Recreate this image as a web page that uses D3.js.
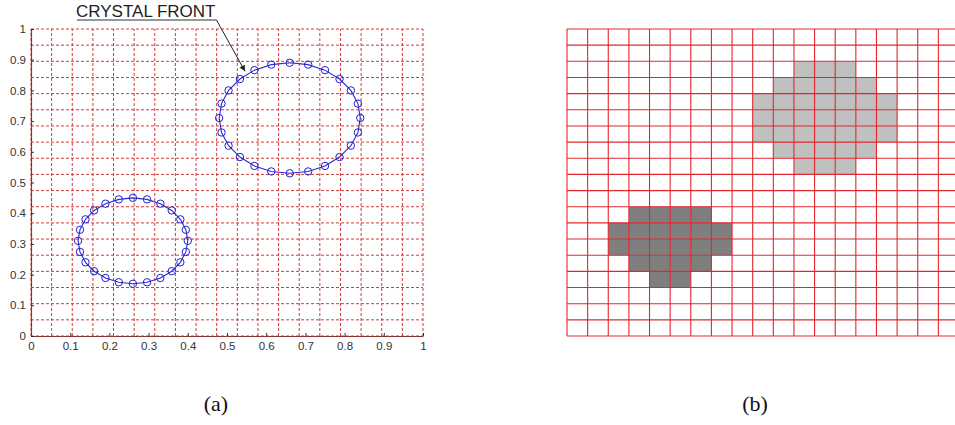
<!DOCTYPE html>
<html>
<head>
<meta charset="utf-8">
<script src="https://cdn.jsdelivr.net/npm/d3@7"></script>
<style>
  html, body { margin: 0; padding: 0; background: #fff; }
  svg { display: block; }
</style>
</head>
<body>
<svg id="fig" width="955" height="425"></svg>
<script>
// ---- data ----
// Mesh resolution shared by both panels (cells per side)
const meshCells = 19;

// Axis tick values of the front-tracking panel
const tickValues = [0, 0.1, 0.2, 0.3, 0.4, 0.5, 0.6, 0.7, 0.8, 0.9, 1];
const tickLabels = ["0", "0.1", "0.2", "0.3", "0.4", "0.5", "0.6", "0.7", "0.8", "0.9", "1"];

// Marker points along the lower-left crystal front
const front1X = [0.400, 0.395, 0.381, 0.359, 0.330, 0.296, 0.260, 0.224, 0.190, 0.161, 0.139, 0.125,
                 0.120, 0.125, 0.139, 0.161, 0.190, 0.224, 0.260, 0.296, 0.330, 0.359, 0.381, 0.395];
const front1Y = [0.310, 0.346, 0.380, 0.409, 0.431, 0.445, 0.450, 0.445, 0.431, 0.409, 0.380, 0.346,
                 0.310, 0.274, 0.240, 0.211, 0.189, 0.175, 0.170, 0.175, 0.189, 0.211, 0.240, 0.274];

// Marker points along the upper-right crystal front
const front2X = [0.840, 0.834, 0.816, 0.787, 0.750, 0.707, 0.660, 0.613, 0.570, 0.533, 0.504, 0.486,
                 0.480, 0.486, 0.504, 0.533, 0.570, 0.613, 0.660, 0.707, 0.750, 0.787, 0.816, 0.834];
const front2Y = [0.710, 0.757, 0.800, 0.837, 0.866, 0.884, 0.890, 0.884, 0.866, 0.837, 0.800, 0.757,
                 0.710, 0.663, 0.620, 0.583, 0.554, 0.536, 0.530, 0.536, 0.554, 0.583, 0.620, 0.663];

const annotationText = "CRYSTAL FRONT";
// Point (data units) where the annotation arrow ends
const arrowTip = [0.546, 0.862];

// Solid cells of the cellular grid: row index (from top) with first and last column
const lightRows  = [2, 3, 4, 5, 6, 7, 8];
const lightFirst = [11, 10, 9, 9, 9, 10, 11];
const lightLast  = [13, 14, 15, 15, 15, 14, 13];

const darkRows  = [11, 12, 13, 14, 15];
const darkFirst = [3, 2, 2, 3, 4];
const darkLast  = [6, 7, 7, 6, 5];

const panelCaptions = ["(a)", "(b)"];

// ---- layout ----
const svg = d3.select("#fig");
const W = 955;
const plotTop = 29, plotBottom = 336;
const leftA = 31, rightA = 423;
const leftB = 567;
const cellSize = (rightA - leftA) / meshCells;

// ---- panel (a): front tracking ----
const x = d3.scaleLinear().domain([0, 1]).range([leftA, rightA]);
const y = d3.scaleLinear().domain([0, 1]).range([plotBottom, plotTop]);

const gA = svg.append("g");

// dashed mesh lines
const meshVals = d3.range(meshCells + 1).map(i => i / meshCells);
gA.append("g").selectAll("line").data(meshVals).join("line")
  .attr("x1", d => x(d)).attr("x2", d => x(d))
  .attr("y1", y(0)).attr("y2", y(1))
  .attr("stroke", "#d23a3a").attr("stroke-width", 1)
  .attr("stroke-dasharray", "3,2");
gA.append("g").selectAll("line").data(meshVals).join("line")
  .attr("y1", d => y(d)).attr("y2", d => y(d))
  .attr("x1", x(0)).attr("x2", x(1))
  .attr("stroke", "#d23a3a").attr("stroke-width", 1)
  .attr("stroke-dasharray", "3,2");

// axes
const xAxis = d3.axisBottom(x).tickValues(tickValues)
  .tickFormat((d, i) => tickLabels[i]).tickSizeInner(-3).tickSizeOuter(0).tickPadding(6);
const yAxis = d3.axisLeft(y).tickValues(tickValues)
  .tickFormat((d, i) => tickLabels[i]).tickSizeInner(-3).tickSizeOuter(0).tickPadding(5);

const gx = gA.append("g").attr("transform", `translate(0,${plotBottom})`).call(xAxis);
const gy = gA.append("g").attr("transform", `translate(${leftA},0)`).call(yAxis);
[gx, gy].forEach(g => {
  g.select(".domain").attr("stroke", "#8a3535").attr("stroke-width", 1.2);
  g.selectAll(".tick line").attr("stroke", "#333");
  g.selectAll(".tick text")
    .attr("fill", "#333")
    .style("font-family", "'Liberation Sans', Arial, sans-serif")
    .style("font-size", "11.5px");
});

// crystal fronts
const fronts = [
  front1X.map((v, i) => [v, front1Y[i]]),
  front2X.map((v, i) => [v, front2Y[i]])
];
const frontLine = d3.line().x(d => x(d[0])).y(d => y(d[1])).curve(d3.curveLinearClosed);
fronts.forEach(pts => {
  gA.append("path").datum(pts)
    .attr("d", frontLine)
    .attr("fill", "none")
    .attr("stroke", "#2b2bc8")
    .attr("stroke-width", 1.1);
  gA.append("g").selectAll("circle").data(pts).join("circle")
    .attr("cx", d => x(d[0])).attr("cy", d => y(d[1]))
    .attr("r", 3.7)
    .attr("fill", "none")
    .attr("stroke", "#2020d8")
    .attr("stroke-width", 1);
});

// annotation with underline and leader arrow
svg.append("defs").append("marker")
  .attr("id", "arrowHead")
  .attr("viewBox", "0 0 10 10")
  .attr("refX", 10).attr("refY", 5)
  .attr("markerWidth", 9).attr("markerHeight", 6)
  .attr("markerUnits", "userSpaceOnUse")
  .attr("orient", "auto")
  .append("path").attr("d", "M0,0 L10,5 L0,10 Z").attr("fill", "#222");

const textStart = 76;
const annoText = svg.append("text")
  .attr("x", textStart).attr("y", 16.5)
  .attr("fill", "#222")
  .style("font-family", "'Liberation Sans', Arial, sans-serif")
  .style("font-size", "17px")
  .text(annotationText);
const textEnd = textStart + annoText.node().getComputedTextLength();
svg.append("line")
  .attr("x1", textStart + 1).attr("x2", textEnd + 1)
  .attr("y1", 20).attr("y2", 20)
  .attr("stroke", "#333").attr("stroke-width", 1);
svg.append("line")
  .attr("x1", textEnd + 1).attr("y1", 20)
  .attr("x2", x(arrowTip[0])).attr("y2", y(arrowTip[1]))
  .attr("stroke", "#222").attr("stroke-width", 1)
  .attr("marker-end", "url(#arrowHead)");

// ---- panel (b): cellular grid ----
const col = d3.scaleLinear().domain([0, meshCells]).range([leftB, leftB + meshCells * cellSize]);
const row = d3.scaleLinear().domain([0, meshCells]).range([plotTop, plotBottom]);

const gB = svg.append("g");

function cellRuns(rows, first, last, fill) {
  const cells = [];
  rows.forEach((r, i) => {
    for (let c = first[i]; c <= last[i]; c++) cells.push({ r, c });
  });
  gB.append("g").selectAll("rect").data(cells).join("rect")
    .attr("x", d => col(d.c)).attr("y", d => row(d.r))
    .attr("width", col(1) - col(0)).attr("height", row(1) - row(0))
    .attr("fill", fill);
}
cellRuns(lightRows, lightFirst, lightLast, "#c0c0c0");
cellRuns(darkRows, darkFirst, darkLast, "#7f7f7f");

const gridIdx = d3.range(meshCells + 1);
gB.append("g").selectAll("line").data(gridIdx).join("line")
  .attr("x1", d => col(d)).attr("x2", d => col(d))
  .attr("y1", row(0)).attr("y2", row(meshCells))
  .attr("stroke", "#e2262e").attr("stroke-width", 1.1);
gB.append("g").selectAll("line").data(gridIdx).join("line")
  .attr("y1", d => row(d)).attr("y2", d => row(d))
  .attr("x1", col(0)).attr("x2", Math.min(W, col(meshCells)))
  .attr("stroke", "#e2262e").attr("stroke-width", 1.1);

// ---- captions ----
const captionX = [216, 755];
svg.selectAll("text.caption").data(panelCaptions).join("text")
  .attr("class", "caption")
  .attr("x", (d, i) => captionX[i]).attr("y", 411)
  .attr("text-anchor", "middle")
  .attr("fill", "#111")
  .style("font-family", "'Liberation Serif', 'DejaVu Serif', serif")
  .style("font-size", "22px")
  .text(d => d);
</script>
</body>
</html>
